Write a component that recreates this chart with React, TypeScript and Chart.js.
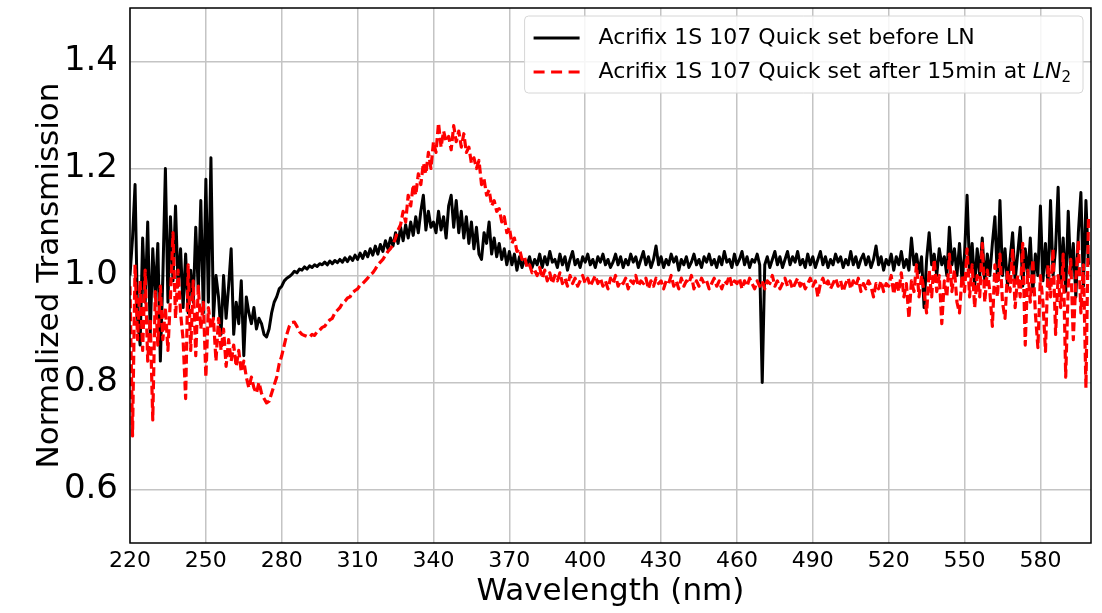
import { useEffect, useRef } from "react";
import { Chart, registerables } from "chart.js";

Chart.register(...registerables);

// Normalized transmission, one value per nm from 220 nm to 599 nm
const beforeLN = [
  1.00, 1.07, 1.17, 0.92, 0.87, 1.07, 0.95, 1.10, 0.89, 1.05,
  0.96, 1.06, 0.84, 1.00, 1.20, 0.95, 1.11, 0.99, 1.13, 0.98,
  1.05, 0.94, 1.04, 0.93, 1.01, 0.95, 1.09, 0.97, 1.14, 0.93,
  1.18, 0.95, 1.22, 0.92, 1.00, 0.96, 0.89, 1.00, 0.92, 0.98,
  1.05, 0.89, 0.95, 0.91, 0.99, 0.85, 0.96, 0.93, 0.91, 0.94,
  0.90, 0.92, 0.91, 0.89, 0.885, 0.90, 0.93, 0.95, 0.96, 0.975,
  0.98, 0.99, 0.995, 0.998, 1.002, 1.008, 1.005, 1.012, 1.01, 1.016,
  1.012, 1.018, 1.015, 1.02, 1.017, 1.022, 1.02, 1.025, 1.02, 1.027,
  1.022, 1.028, 1.024, 1.03, 1.025, 1.033, 1.026, 1.035, 1.028, 1.038,
  1.03, 1.042, 1.032, 1.045, 1.035, 1.05, 1.038, 1.055, 1.04, 1.058,
  1.045, 1.065, 1.05, 1.07, 1.055, 1.08, 1.06, 1.09, 1.065, 1.095,
  1.07, 1.10, 1.075, 1.11, 1.08, 1.12, 1.15, 1.085, 1.12, 1.09,
  1.10, 1.08, 1.12, 1.085, 1.11, 1.07, 1.13, 1.15, 1.09, 1.14,
  1.08, 1.12, 1.07, 1.11, 1.06, 1.10, 1.05, 1.09, 1.04, 1.03,
  1.08, 1.06, 1.10, 1.04, 1.07, 1.035, 1.06, 1.03, 1.05, 1.02,
  1.045, 1.02, 1.04, 1.01, 1.035, 1.015, 1.03, 1.02, 1.035, 1.015,
  1.03, 1.02, 1.04, 1.015, 1.035, 1.02, 1.045, 1.025, 1.03, 1.015,
  1.04, 1.02, 1.035, 1.01, 1.03, 1.045, 1.02, 1.03, 1.015, 1.035,
  1.025, 1.04, 1.02, 1.03, 1.015, 1.035, 1.025, 1.04, 1.02, 1.03,
  1.015, 1.025, 1.04, 1.02, 1.035, 1.015, 1.03, 1.02, 1.04, 1.025,
  1.035, 1.015, 1.03, 1.045, 1.02, 1.035, 1.015, 1.03, 1.055, 1.02,
  1.035, 1.015, 1.03, 1.02, 1.04, 1.025, 1.035, 1.01, 1.03, 1.02,
  1.035, 1.015, 1.025, 1.04, 1.02, 1.03, 1.015, 1.035, 1.025, 1.04,
  1.02, 1.03, 1.015, 1.035, 1.02, 1.045, 1.025, 1.03, 1.015, 1.04,
  1.02, 1.03, 1.045, 1.02, 1.035, 1.015, 1.03, 1.025, 1.04, 1.02,
  0.80, 1.02, 1.035, 1.015, 1.03, 1.045, 1.02, 1.035, 1.015, 1.03,
  1.045, 1.02, 1.035, 1.025, 1.045, 1.02, 1.03, 1.015, 1.04, 1.02,
  1.035, 1.015, 1.03, 1.045, 1.02, 1.035, 1.015, 1.03, 1.02, 1.04,
  1.025, 1.035, 1.015, 1.03, 1.02, 1.045, 1.02, 1.035, 1.015, 1.03,
  1.04, 1.02, 1.035, 1.015, 1.03, 1.055, 1.02, 1.035, 1.01, 1.03,
  1.02, 1.04, 1.01, 1.035, 1.02, 1.045, 1.015, 1.03, 1.01, 1.07,
  1.02, 1.04, 1.005, 1.035, 0.94, 1.03, 1.08, 1.02, 1.04, 1.00,
  1.05, 1.02, 1.035, 1.00, 1.09, 1.02, 1.05, 1.00, 1.06, 0.99,
  1.04, 1.15, 1.01, 1.06, 0.98, 1.05, 1.00, 1.07, 0.99, 1.04,
  1.00, 1.06, 1.11, 0.99, 1.14, 1.00, 1.05, 0.98, 1.03, 1.08,
  0.99, 1.04, 1.09, 0.98, 1.05, 1.00, 1.07, 0.97, 1.04, 1.00,
  1.13, 0.99, 1.06, 0.98, 1.14, 1.00, 1.05, 1.165, 0.99, 1.07,
  0.97, 1.12, 1.00, 1.06, 0.96, 1.08, 1.155, 0.98, 1.14, 1.02,
];

const afterLN2 = [
  0.98, 0.70, 1.02, 0.88, 0.99, 0.86, 1.01, 0.84, 0.92, 0.73,
  0.97, 0.87, 0.98, 0.88, 0.94, 0.86, 0.96, 1.08, 0.92, 1.01,
  0.93, 0.88, 0.77, 1.02, 0.86, 0.99, 0.85, 0.98, 0.90, 0.95,
  0.81, 0.94, 0.90, 0.92, 0.84, 0.92, 0.86, 0.90, 0.83, 0.88,
  0.84, 0.87, 0.83, 0.86, 0.82, 0.84, 0.81, 0.79, 0.81, 0.79,
  0.78, 0.80, 0.78, 0.77, 0.762, 0.765, 0.78, 0.795, 0.81, 0.835,
  0.85, 0.87, 0.89, 0.905, 0.912, 0.913, 0.905, 0.895, 0.89, 0.888,
  0.886, 0.885, 0.89, 0.888, 0.895, 0.898, 0.903, 0.905, 0.912, 0.917,
  0.92, 0.93, 0.935, 0.94, 0.948, 0.952, 0.958, 0.96, 0.968, 0.972,
  0.975, 0.982, 0.985, 0.99, 0.995, 1.002, 1.005, 1.012, 1.02, 1.025,
  1.03, 1.038, 1.045, 1.05, 1.058, 1.07, 1.085, 1.095, 1.12, 1.10,
  1.15, 1.13, 1.17, 1.15, 1.19, 1.17, 1.21, 1.19, 1.23, 1.20,
  1.25, 1.23, 1.285, 1.24, 1.27, 1.25, 1.26, 1.235, 1.28, 1.25,
  1.27, 1.24, 1.265, 1.23, 1.24, 1.21, 1.22, 1.20, 1.215, 1.17,
  1.18, 1.15, 1.16, 1.13, 1.14, 1.12, 1.125, 1.10, 1.11, 1.08,
  1.09, 1.06, 1.07, 1.045, 1.05, 1.03, 1.035, 1.015, 1.02, 1.005,
  1.01, 1.00, 1.015, 0.995, 1.01, 0.99, 1.005, 0.985, 1.00, 0.99,
  1.005, 0.985, 0.995, 0.98, 1.00, 0.985, 0.995, 0.98, 0.99, 1.00,
  0.985, 0.995, 0.98, 0.99, 1.00, 0.985, 0.995, 0.98, 0.99, 0.975,
  0.995, 0.985, 1.00, 0.98, 0.99, 0.985, 0.995, 0.975, 0.99, 0.985,
  1.00, 0.98, 0.99, 0.985, 0.995, 0.975, 0.99, 0.98, 0.995, 0.985,
  0.99, 0.975, 0.99, 0.985, 1.00, 0.98, 0.99, 0.975, 0.995, 0.98,
  0.99, 0.985, 1.00, 0.975, 0.99, 0.98, 0.995, 0.985, 0.99, 0.975,
  0.985, 0.995, 0.98, 0.99, 0.975, 0.99, 0.985, 1.00, 0.98, 0.99,
  0.985, 0.995, 0.975, 0.99, 0.98, 0.995, 0.985, 0.975, 0.99, 0.98,
  0.99, 0.975, 0.99, 0.985, 1.00, 0.98, 0.99, 0.975, 0.985, 0.995,
  0.98, 0.99, 0.975, 0.985, 0.995, 0.98, 0.99, 0.975, 0.985, 0.995,
  0.98, 0.99, 0.96, 0.985, 0.995, 0.98, 0.99, 0.975, 0.985, 0.995,
  0.98, 0.99, 0.97, 0.985, 0.995, 0.975, 0.99, 0.98, 0.995, 0.97,
  0.985, 0.975, 0.99, 0.98, 0.96, 0.985, 0.975, 0.99, 0.97, 0.985,
  0.98, 1.00, 0.965, 0.99, 0.97, 1.005, 0.96, 0.985, 0.92, 0.99,
  0.97, 1.02, 0.96, 1.00, 0.97, 0.93, 1.01, 0.96, 1.03, 0.97,
  1.00, 0.91, 0.99, 0.96, 1.04, 0.97, 1.01, 0.95, 0.93, 1.00,
  0.97, 1.05, 0.96, 1.02, 0.94, 1.00, 0.96, 1.06, 0.95, 1.01,
  0.97, 0.905, 1.02, 0.96, 1.04, 0.95, 0.92, 1.01, 0.97, 1.05,
  0.94, 1.00, 0.96, 1.06, 0.87, 1.01, 0.95, 1.03, 0.93, 0.865,
  1.00, 0.95, 0.858, 1.02, 0.96, 1.05, 0.89, 1.00, 0.94, 1.04,
  0.81, 0.98, 1.03, 0.88, 0.99, 1.065, 0.93, 1.02, 0.79, 1.11,
];

const startWavelength = 220;
const wavelengths = beforeLN.map((_, i) => startWavelength + i);

const xTickValues = [220, 250, 280, 310, 340, 370, 400, 430, 460, 490, 520, 550, 580];
const yTickValues = [0.6, 0.8, 1.0, 1.2, 1.4];

const seriesLabels = [
  "Acrifix 1S 107 Quick set before LN",
  "Acrifix 1S 107 Quick set after 15min at ",
];
const xTitle = "Wavelength (nm)";
const yTitle = "Normalized Transmission";

const FONT = "'DejaVu Sans', 'Liberation Sans', sans-serif";

export default function App() {
  const ref = useRef<HTMLCanvasElement | null>(null);

  useEffect(() => {
    if (!ref.current) return;

    const framePlugin = {
      id: "frame",
      afterDatasetsDraw(chart: any) {
        const { ctx, chartArea } = chart;
        ctx.save();
        ctx.strokeStyle = "#000";
        ctx.lineWidth = 1.5;
        ctx.strokeRect(chartArea.left, chartArea.top, chartArea.right - chartArea.left, chartArea.bottom - chartArea.top);
        ctx.restore();
      },
    };

    const legendPlugin = {
      id: "mplLegend",
      afterDraw(chart: any) {
        const { ctx, chartArea } = chart;
        ctx.save();
        const fs = 22;
        const subFs = 15;
        ctx.font = `${fs}px ${FONT}`;
        const w0 = ctx.measureText(seriesLabels[0]).width;
        const w1a = ctx.measureText(seriesLabels[1]).width;
        ctx.font = `italic ${fs}px ${FONT}`;
        const wLN = ctx.measureText("LN").width;
        ctx.font = `${subFs}px ${FONT}`;
        const wSub = ctx.measureText("2").width;
        const textW = Math.max(w0, w1a + wLN + wSub);
        const handle = 46;
        const padL = 9, gap = 19, padR = 12;
        const boxW = padL + handle + gap + textW + padR;
        const boxH = 77;
        const x0 = chartArea.right - 8 - boxW;
        const y0 = chartArea.top + 8;
        // box
        ctx.beginPath();
        const r = 4;
        ctx.moveTo(x0 + r, y0);
        ctx.lineTo(x0 + boxW - r, y0);
        ctx.quadraticCurveTo(x0 + boxW, y0, x0 + boxW, y0 + r);
        ctx.lineTo(x0 + boxW, y0 + boxH - r);
        ctx.quadraticCurveTo(x0 + boxW, y0 + boxH, x0 + boxW - r, y0 + boxH);
        ctx.lineTo(x0 + r, y0 + boxH);
        ctx.quadraticCurveTo(x0, y0 + boxH, x0, y0 + boxH - r);
        ctx.lineTo(x0, y0 + r);
        ctx.quadraticCurveTo(x0, y0, x0 + r, y0);
        ctx.closePath();
        ctx.fillStyle = "rgba(255,255,255,0.85)";
        ctx.fill();
        ctx.strokeStyle = "#d6d6d6";
        ctx.lineWidth = 1;
        ctx.stroke();

        const row1 = y0 + 22;
        const row2 = y0 + 56;
        const hx = x0 + padL;
        // handles
        ctx.strokeStyle = "#000";
        ctx.lineWidth = 3;
        ctx.setLineDash([]);
        ctx.beginPath();
        ctx.moveTo(hx, row1);
        ctx.lineTo(hx + handle, row1);
        ctx.stroke();
        ctx.strokeStyle = "#ff0000";
        ctx.lineWidth = 3;
        ctx.setLineDash([11, 6.5]);
        ctx.beginPath();
        ctx.moveTo(hx, row2);
        ctx.lineTo(hx + handle, row2);
        ctx.stroke();
        ctx.setLineDash([]);

        // text
        const tx = hx + handle + gap;
        ctx.fillStyle = "#000";
        ctx.textBaseline = "middle";
        ctx.textAlign = "left";
        ctx.font = `${fs}px ${FONT}`;
        ctx.fillText(seriesLabels[0], tx, row1);
        ctx.fillText(seriesLabels[1], tx, row2);
        ctx.font = `italic ${fs}px ${FONT}`;
        ctx.fillText("LN", tx + w1a, row2);
        ctx.font = `${subFs}px ${FONT}`;
        ctx.fillText("2", tx + w1a + wLN, row2 + 6);
        ctx.restore();
      },
    };

    const chart = new Chart(ref.current, {
      type: "line",
      data: {
        datasets: [
          {
            label: seriesLabels[1] + "LN2",
            data: wavelengths.map((x, i) => ({ x, y: afterLN2[i] })),
            borderColor: "#ff0000",
            backgroundColor: "#ff0000",
            borderWidth: 3.2,
            borderDash: [9, 4],
            borderCapStyle: "butt",
            borderJoinStyle: "round",
            pointRadius: 0,
            fill: false,
            tension: 0,
            order: 1,
          },
          {
            label: seriesLabels[0],
            data: wavelengths.map((x, i) => ({ x, y: beforeLN[i] })),
            borderColor: "#000000",
            backgroundColor: "#000000",
            borderWidth: 3,
            borderJoinStyle: "round",
            pointRadius: 0,
            fill: false,
            tension: 0,
            order: 2,
          },
        ],
      },
      options: {
        responsive: false,
        animation: false,
        events: [],
        layout: { padding: { top: 8, right: 11, left: 0, bottom: 0 } },
        plugins: {
          legend: { display: false },
          tooltip: { enabled: false },
        },
        scales: {
          x: {
            type: "linear",
            min: 220,
            max: 600,
            afterBuildTicks: (s: any) => {
              s.ticks = xTickValues.map((v) => ({ value: v }));
            },
            afterFit: (s: any) => {
              s.height = 70;
              s.paddingLeft = 0;
              s.paddingRight = 0;
            },
            grid: { color: "#c4c4c4", lineWidth: 1.5, drawTicks: false },
            border: { display: false },
            ticks: {
              color: "#000",
              font: { family: FONT, size: 22 },
              padding: 5,
              maxRotation: 0,
              autoSkip: false,
              callback: (v: any) => String(v),
            },
            title: {
              display: true,
              text: xTitle,
              color: "#000",
              font: { family: FONT, size: 31 },
              padding: { top: 0, bottom: 2 },
            },
          },
          y: {
            type: "linear",
            min: 0.5,
            max: 1.5,
            afterBuildTicks: (s: any) => {
              s.ticks = yTickValues.map((v) => ({ value: v }));
            },
            afterFit: (s: any) => {
              s.width = 130;
              s.paddingTop = 0;
              s.paddingBottom = 0;
            },
            grid: { color: "#c4c4c4", lineWidth: 1.5, drawTicks: false },
            border: { display: false },
            ticks: {
              color: "#000",
              font: { family: FONT, size: 34 },
              padding: 12,
              callback: (v: any) => Number(v).toFixed(1),
            },
            title: {
              display: true,
              text: yTitle,
              color: "#000",
              font: { family: FONT, size: 31 },
              padding: { top: 31, bottom: 0 },
            },
          },
        },
      },
      plugins: [framePlugin, legendPlugin],
    } as any);

    return () => chart.destroy();
  }, []);

  return (
    <div style={{ position: "absolute", left: 0, top: 0, width: 1102, height: 613, background: "#fff" }}>
      <canvas ref={ref} width={1102} height={613} style={{ display: "block" }} />
    </div>
  );
}
